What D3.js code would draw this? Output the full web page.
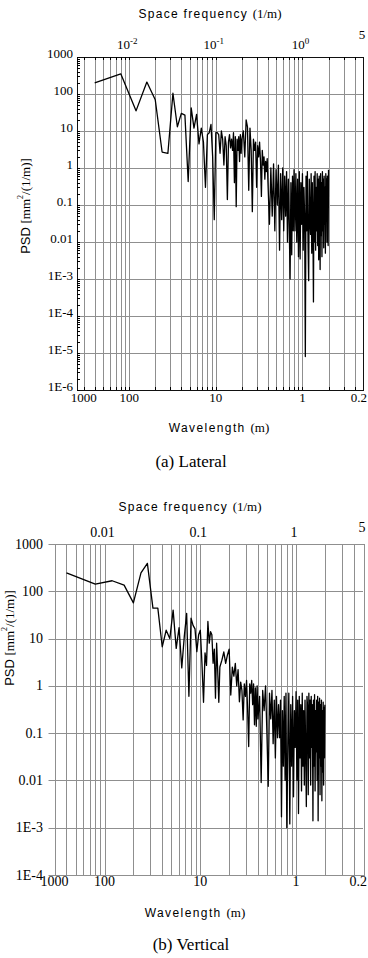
<!DOCTYPE html>
<html>
<head>
<meta charset="utf-8">
<script src="https://cdn.jsdelivr.net/npm/d3@7"></script>
<style>
  body { margin: 0; background: #fff; }
  .serif { font-family: "Liberation Serif", "Times New Roman", serif; }
  .sans { font-family: "Liberation Sans", Arial, sans-serif; }
</style>
</head>
<body>
<svg id="fig" width="368" height="958"></svg>
<script>
// PSD of lateral irregularity, [space frequency (1/m), PSD]
const lateral = [
  [0.004,200],[0.008,350],[0.012,35],[0.016,210],[0.02,70],[0.024,2.7],[0.028,2.5],[0.032,105],[0.036,13],[0.04,30],
  [0.044,27],[0.048,0.43],[0.052,42],[0.056,12],[0.06,28],[0.064,4.5],[0.068,12],[0.072,5],[0.076,0.3],[0.08,8],
  [0.084,9],[0.088,15],[0.092,2],[0.096,0.04],[0.1,9],[0.104,9],[0.108,8],[0.112,2.5],[0.116,10],[0.12,6],
  [0.124,1.2],[0.128,7],[0.132,4],[0.136,0.14],[0.14,5],[0.144,8],[0.148,3.5],[0.152,6],[0.156,3],[0.16,9],
  [0.164,0.4],[0.168,7],[0.172,0.09],[0.176,6],[0.18,3],[0.184,7],[0.188,1.5],[0.192,8],[0.196,2.5],[0.2,6],
  [0.208,10],[0.216,2],[0.224,20],[0.232,13],[0.24,0.25],[0.248,12],[0.256,3],[0.264,0.066],[0.272,6],[0.28,3],
  [0.288,5],[0.296,0.3],[0.304,4],[0.312,2],[0.32,5],[0.328,1.5],[0.336,0.17],[0.344,3],[0.352,1.2],[0.36,2],
  [0.368,0.5],[0.376,1.5],[0.384,0.8],[0.392,1.8],[0.4,0.4],
  [0.416,0.03],[0.432,1.0],[0.448,0.05],[0.464,1.3],[0.48,0.02],[0.496,0.9],[0.512,0.1],[0.528,1.2],[0.544,0.006],[0.56,0.7],
  [0.576,0.04],[0.592,1.0],[0.608,0.02],[0.624,0.6],[0.64,0.05],[0.656,0.8],[0.672,0.01],[0.688,0.5],[0.704,0.03],[0.72,0.001],
  [0.736,0.4],[0.752,0.0045],[0.768,0.6],[0.784,0.02],[0.8,0.9],
  [0.82,0.02],[0.84,0.7],[0.86,0.01],[0.88,0.5],[0.9,0.004],[0.92,0.8],[0.94,0.0035],[0.96,0.4],[0.98,0.03],[1.0,0.7],
  [1.02,0.006],[1.04,0.3],[1.06,0.05],[1.08,0.000008],[1.1,0.6],[1.12,0.02],[1.14,0.8],[1.16,0.009],[1.18,0.0009],[1.2,0.5],
  [1.22,0.04],[1.24,0.016],[1.26,0.7],[1.28,0.005],[1.3,0.4],[1.32,0.03],[1.34,0.00024],[1.36,0.6],[1.38,0.01],[1.4,0.8],
  [1.42,0.006],[1.44,0.3],[1.46,0.02],[1.48,0.7],[1.5,0.008],[1.52,0.5],[1.54,0.0033],[1.56,0.6],[1.58,0.05],[1.6,0.0018],
  [1.62,0.7],[1.64,0.015],[1.66,0.4],[1.68,0.004],[1.7,0.8],[1.72,0.02],[1.74,0.5],[1.76,0.007],[1.78,0.6],[1.8,0.03],
  [1.82,0.3],[1.84,0.005],[1.86,0.7],[1.88,0.04],[1.9,0.5],[1.92,0.01],[1.94,0.6],[1.96,0.02],[1.98,0.008],[2.0,0.9]
];

// PSD of vertical irregularity, [space frequency (1/m), PSD]
const vertical = [
  [0.004,245],[0.008,142],[0.012,167],[0.016,135],[0.02,57],[0.024,245],[0.028,390],[0.032,44],[0.036,44],[0.04,6.7],
  [0.044,15],[0.048,10],[0.052,40],[0.056,6.2],[0.06,17],[0.064,2.4],[0.068,11],[0.072,34],[0.076,0.6],[0.08,27],
  [0.084,19],[0.088,16],[0.092,5.3],[0.096,12],[0.1,15],[0.104,3],[0.108,0.45],[0.112,5],[0.116,2.7],[0.12,23],
  [0.124,8],[0.128,14],[0.132,12],[0.136,3],[0.14,6],[0.144,0.55],[0.148,8],[0.152,2],[0.156,0.45],[0.16,2.5],
  [0.168,3.5],[0.176,5.2],[0.184,3],[0.192,4.5],[0.2,6],
  [0.208,0.64],[0.216,2.5],[0.224,1.6],[0.232,3],[0.24,1.0],[0.248,2.2],[0.256,0.46],[0.264,1.2],[0.272,0.8],[0.28,0.19],
  [0.288,1.1],[0.296,0.6],[0.304,1.3],[0.312,0.3],[0.32,0.052],[0.328,1.1],[0.336,0.7],[0.344,1.3],[0.352,0.4],[0.36,1.1],
  [0.368,0.15],[0.376,0.9],[0.384,0.14],[0.392,1.0],[0.4,0.2],
  [0.416,0.6],[0.432,0.009],[0.448,0.8],[0.464,0.3],[0.48,1.0],[0.496,0.1],[0.512,0.0075],[0.528,0.7],[0.544,0.2],[0.56,0.8],
  [0.576,0.06],[0.592,0.5],[0.608,0.03],[0.624,0.6],[0.64,0.08],[0.656,0.4],[0.672,0.08],[0.688,0.5],[0.704,0.0017],[0.72,0.3],
  [0.736,0.02],[0.752,0.6],[0.768,0.01],[0.784,0.7],[0.8,0.001],
  [0.82,0.05],[0.84,0.7],[0.86,0.0012],[0.88,0.4],[0.9,0.02],[0.92,0.6],[0.94,0.0045],[0.96,0.3],[0.98,0.05],[1.0,0.75],
  [1.02,0.01],[1.04,0.5],[1.06,0.002],[1.08,0.6],[1.1,0.03],[1.12,0.4],[1.14,0.006],[1.16,0.7],[1.18,0.02],[1.2,0.3],
  [1.22,0.008],[1.24,0.5],[1.26,0.04],[1.28,0.0028],[1.3,0.6],[1.32,0.35],[1.34,0.005],[1.36,0.7],[1.38,0.03],[1.4,0.5],
  [1.42,0.008],[1.44,0.6],[1.46,0.05],[1.48,0.4],[1.5,0.0014],[1.52,0.5],[1.54,0.02],[1.56,0.65],[1.58,0.006],[1.6,0.3],
  [1.62,0.04],[1.64,0.5],[1.66,0.01],[1.68,0.6],[1.7,0.0014],[1.72,0.45],[1.74,0.03],[1.76,0.55],[1.78,0.005],[1.8,0.4],
  [1.82,0.02],[1.84,0.5],[1.86,0.0037],[1.88,0.3],[1.9,0.015],[1.92,0.45],[1.94,0.008],[1.96,0.35],[1.98,0.03],[2.0,0.4]
];

// tick values and labels
const yTicksA = [1e-6, 1e-5, 1e-4, 1e-3, 0.01, 0.1, 1, 10, 100, 1000];
const yLabelsA = ["1E-6", "1E-5", "1E-4", "1E-3", "0.01", "0.1", "1", "10", "100", "1000"];
const yTicksB = [1e-4, 1e-3, 0.01, 0.1, 1, 10, 100, 1000];
const yLabelsB = ["1E-4", "1E-3", "0.01", "0.1", "1", "10", "100", "1000"];

const topTicksA = [0.01, 0.1, 1, 5];
const topLabelsA = ["10^-2", "10^-1", "10^0", "5"];
const topTicksB = [0.01, 0.1, 1, 5];
const topLabelsB = ["0.01", "0.1", "1", "5"];

// wavelength labels on the bottom axis, placed at these frequencies
const bottomTicks = [0.003, 0.01, 0.1, 1, 5];
const bottomLabels = ["1000", "100", "10", "1", "0.2"];

const svg = d3.select("#fig");
const GRID = "#8f8f8f";

function richText(sel, str, supSize) {
  const parts = str.split("^");
  sel.append("tspan").text(parts[0]);
  if (parts[1] !== undefined) {
    sel.append("tspan").attr("dy", -5).attr("font-size", supSize).text(parts[1]);
  }
}

function drawPanel(p) {
  const x = d3.scaleLog().domain(p.xDomain).range(p.xRange);
  const y = d3.scaleLog().domain(p.yDomain).range(p.yRange);
  const [x0, x1] = p.xRange;
  const [yb, yt] = p.yRange;
  const px = v => Math.round(x(v)) + 0.5;
  const py = v => Math.round(y(v)) + 0.5;

  const g = svg.append("g");

  // vertical grid (log minor steps)
  g.append("g").selectAll("line")
    .data(x.ticks().filter(d => d > p.xDomain[0] * 1.0001 && d < p.xDomain[1] * 0.9999))
    .join("line")
      .attr("x1", px).attr("x2", px)
      .attr("y1", yt).attr("y2", yb)
      .attr("stroke", GRID).attr("stroke-width", 1);

  // horizontal grid at decades
  g.append("g").selectAll("line")
    .data(p.yTicks)
    .join("line")
      .attr("x1", p.tickOut ? x0 - 6 : x0).attr("x2", x1)
      .attr("y1", py).attr("y2", py)
      .attr("stroke", GRID).attr("stroke-width", 1);

  // frame
  g.append("rect")
    .attr("x", Math.round(x0) + 0.5).attr("y", Math.round(yt) + 0.5)
    .attr("width", Math.round(x1 - x0)).attr("height", Math.round(yb - yt))
    .attr("fill", "none")
    .attr("stroke", p.frame).attr("stroke-width", 1);

  if (p.minorTicks) {
    // small inward ticks on left, top and bottom
    g.append("g").selectAll("line")
      .data(y.ticks())
      .join("line")
        .attr("x1", x0).attr("x2", x0 + 3)
        .attr("y1", py).attr("y2", py)
        .attr("stroke", "#000");
    const xt = x.ticks().filter(d => d > p.xDomain[0] && d < p.xDomain[1]);
    g.append("g").selectAll("line")
      .data(xt)
      .join("line")
        .attr("x1", px).attr("x2", px)
        .attr("y1", yt).attr("y2", yt + 3)
        .attr("stroke", "#000");
    g.append("g").selectAll("line")
      .data(xt)
      .join("line")
        .attr("x1", px).attr("x2", px)
        .attr("y1", yb - 3).attr("y2", yb)
        .attr("stroke", "#000");
  }

  // PSD curve
  const line = d3.line()
    .x(d => x(d[0]))
    .y(d => y(d[1]));

  g.append("path")
    .datum(p.data)
    .attr("d", line)
    .attr("fill", "none")
    .attr("stroke", "#000")
    .attr("stroke-width", 1.3)
    .attr("stroke-linejoin", "round");

  // y tick labels
  g.append("g").selectAll("text")
    .data(p.yTicks)
    .join("text")
      .attr("class", "serif")
      .attr("x", p.yLabelX)
      .attr("y", d => y(d) + p.yLabelDy)
      .attr("text-anchor", "end")
      .attr("font-size", p.tickSize)
      .text((d, i) => p.yLabels[i]);

  // top tick labels (space frequency)
  g.append("g").selectAll("text")
    .data(p.topTicks)
    .join("text")
      .attr("class", "serif")
      .attr("x", d => x(d) - (d === 5 ? 1 : 2))
      .attr("y", d => d === 5 ? p.topLabelY - p.fiveLift : p.topLabelY)
      .attr("text-anchor", "middle")
      .attr("font-size", p.tickSize)
      .each(function(d, i) { richText(d3.select(this), p.topLabels[i], p.tickSize - 4); });

  // bottom tick labels (wavelength); the last one is kept inside the page
  const nB = bottomTicks.length;
  g.append("g").selectAll("text")
    .data(bottomTicks)
    .join("text")
      .attr("class", "serif")
      .attr("x", (d, i) => i === nB - 1 ? 367 : x(d))
      .attr("y", p.bottomLabelY)
      .attr("text-anchor", (d, i) => i === nB - 1 ? "end" : "middle")
      .attr("font-size", p.tickSize)
      .text((d, i) => bottomLabels[i]);

  // top axis title
  const tt = g.append("text")
    .attr("x", p.topTitle[0]).attr("y", p.topTitle[1])
    .attr("text-anchor", "middle");
  tt.append("tspan").attr("class", "sans").attr("font-size", 12)
    .attr("letter-spacing", 1.3).text("Space frequency ");
  tt.append("tspan").attr("class", "serif").attr("font-size", 13).text("(1/m)");

  // bottom axis title
  const bt = g.append("text")
    .attr("x", p.bottomTitle[0]).attr("y", p.bottomTitle[1])
    .attr("text-anchor", "middle");
  bt.append("tspan").attr("class", "sans").attr("font-size", 12)
    .attr("letter-spacing", 1.4).text("Wavelength ");
  bt.append("tspan").attr("class", "serif").attr("font-size", 13).text("(m)");

  // y axis title
  const yt2 = g.append("text")
    .attr("transform", `translate(${p.yTitle[0]},${p.yTitle[1]}) rotate(-90)`)
    .attr("text-anchor", "middle")
    .attr("dominant-baseline", "central");
  yt2.append("tspan").attr("class", "sans").attr("font-size", 13).text("PSD ");
  yt2.append("tspan").attr("class", "serif").attr("font-size", 13).text("[mm");
  yt2.append("tspan").attr("class", "serif").attr("font-size", 8).attr("dy", -5).text("2");
  yt2.append("tspan").attr("class", "serif").attr("font-size", 13).attr("dy", 5).text("/(1/m)]");

  // caption
  g.append("text")
    .attr("class", "serif")
    .attr("x", p.caption[0]).attr("y", p.caption[1])
    .attr("text-anchor", "middle")
    .attr("font-size", 17)
    .text(p.captionText);
}

drawPanel({
  data: lateral,
  xDomain: [0.0025, 5], xRange: [77, 363],
  yDomain: [1e-6, 1000], yRange: [390, 57],
  yTicks: yTicksA, yLabels: yLabelsA,
  topTicks: topTicksA, topLabels: topLabelsA,
  frame: "#111", minorTicks: true, tickOut: false,
  tickSize: 13,
  yLabelX: 73, yLabelDy: 1,
  topLabelY: 49, fiveLift: 10,
  bottomLabelY: 402,
  topTitle: [210, 18], bottomTitle: [219, 432],
  yTitle: [25, 206],
  caption: [191, 467], captionText: "(a) Lateral"
});

drawPanel({
  data: vertical,
  xDomain: [0.003, 5], xRange: [54.5, 363],
  yDomain: [1e-4, 1000], yRange: [875, 544],
  yTicks: yTicksB, yLabels: yLabelsB,
  topTicks: topTicksB, topLabels: topLabelsB,
  frame: GRID, minorTicks: false, tickOut: true,
  tickSize: 14,
  yLabelX: 43, yLabelDy: 4.5,
  topLabelY: 537, fiveLift: 5,
  bottomLabelY: 886,
  topTitle: [190, 511], bottomTitle: [195, 917],
  yTitle: [9, 638],
  caption: [191, 950], captionText: "(b) Vertical"
});
</script>
</body>
</html>
